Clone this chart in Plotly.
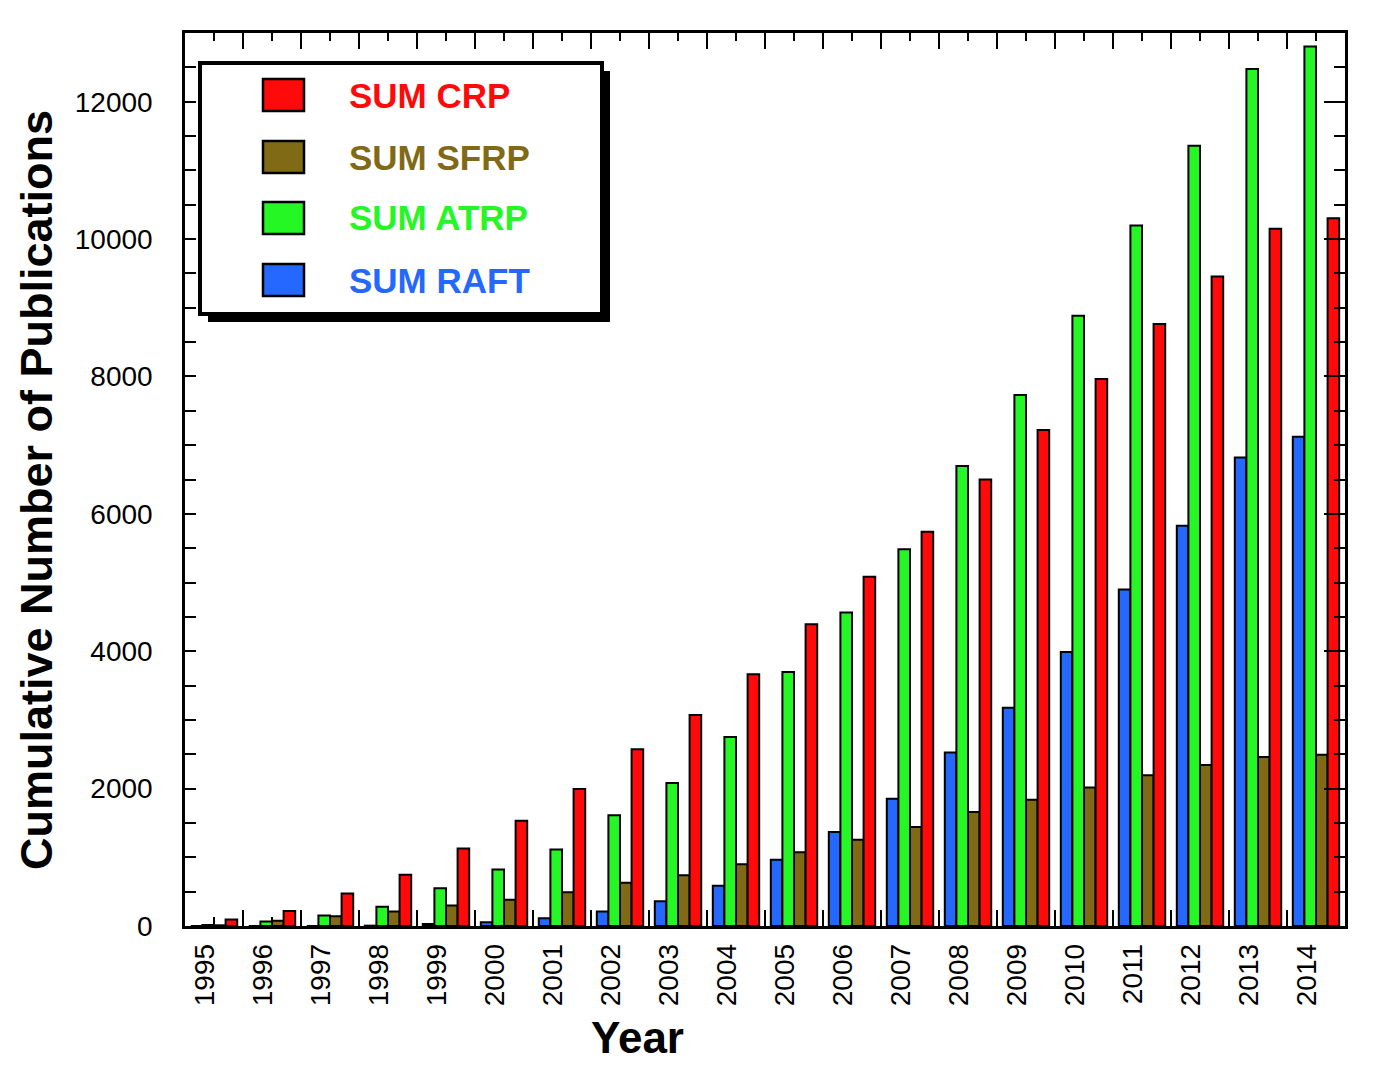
import plotly.graph_objects as go

# ---------------- data ----------------
years = list(range(1995, 2015))
year_labels = [str(y) for y in years]

raft = [0, 0, 0, 5, 30, 55, 114, 211, 361, 586, 965, 1367, 1853, 2524, 3179,
        3990, 4899, 5826, 6822, 7122]
atrp = [15, 65, 153, 280, 551, 823, 1115, 1614, 2081, 2751, 3698, 4563, 5486,
        6695, 7730, 8885, 10197, 11358, 12476, 12805]
sfrp = [10, 75, 143, 211, 299, 382, 492, 629, 740, 900, 1075, 1256, 1440, 1658,
        1839, 2018, 2193, 2343, 2460, 2494]
crp = [95, 220, 474, 746, 1130, 1533, 1993, 2572, 3072, 3665, 4393, 5083, 5738,
       6501, 7220, 7963, 8764, 9454, 10149, 10305]

series_names = ["SUM RAFT", "SUM ATRP", "SUM SFRP", "SUM CRP"]
series_values = [raft, atrp, sfrp, crp]
series_colors = ["#2468FF", "#24F724", "#816A16", "#FF0A0A"]
legend_order = ["SUM CRP", "SUM SFRP", "SUM ATRP", "SUM RAFT"]

y_tick_vals = [0, 2000, 4000, 6000, 8000, 10000, 12000]
y_tick_text = [str(v) for v in y_tick_vals]

# ---------------- figure geometry ----------------
OFF = 8  # page body margin
W, H = 1377 - OFF, 1078 - OFF
ML, MT = 185 - OFF, 33 - OFF
MR = W - (1345 - OFF)
MB = H - (926 - OFF)
PW, PH = W - ML - MR, H - MT - MB


def px(x):
    return (x - OFF - ML) / PW


def py(y):
    return (H - MB - (y - OFF)) / PH


FONT = "Arial, Liberation Sans, sans-serif"

fig = go.Figure()
for name, vals, col in zip(series_names, series_values, series_colors):
    fig.add_trace(go.Bar(
        x=years, y=vals, name=name,
        marker=dict(color=col, line=dict(color="black", width=2)),
        showlegend=False,
    ))

xr = [years[0] - 0.5, years[-1] + 0.5]
yr = [0, 13000]

fig.update_layout(
    width=W, height=H,
    margin=dict(l=ML, r=MR, t=MT, b=MB),
    paper_bgcolor="white", plot_bgcolor="white",
    barmode="group", bargap=0.2, bargroupgap=0.0,
    font=dict(family=FONT, color="black"),
    xaxis=dict(
        range=xr, tickmode="array",
        tickvals=[y - 0.15 for y in years], ticktext=year_labels,
        tickangle=-90, ticks="", showgrid=False, zeroline=False,
        showline=True, linecolor="black", linewidth=2.5,
        tickfont=dict(size=28, family=FONT, color="black"),
        ticklabelstandoff=4,
    ),
    xaxis2=dict(
        overlaying="x", anchor="y", side="bottom", range=xr,
        tick0=xr[0], dtick=1, ticks="inside", ticklen=16, tickwidth=2,
        tickcolor="black", showticklabels=False, showgrid=False,
        zeroline=False, showline=False,
        minor=dict(dtick=0.5, tick0=xr[0], ticks="inside", ticklen=9,
                   tickwidth=2, tickcolor="black"),
    ),
    xaxis3=dict(
        overlaying="x", anchor="y", side="top", range=xr,
        tick0=xr[0], dtick=1, ticks="inside", ticklen=16, tickwidth=2,
        tickcolor="black", showticklabels=False, showgrid=False,
        zeroline=False, showline=True, linecolor="black", linewidth=2.5,
        minor=dict(dtick=0.5, tick0=xr[0], ticks="inside", ticklen=8,
                   tickwidth=2, tickcolor="black"),
    ),
    yaxis=dict(
        range=yr, tickmode="array", tickvals=y_tick_vals, ticktext=y_tick_text,
        ticks="inside", ticklen=11, tickwidth=2, tickcolor="black",
        showgrid=False, zeroline=False,
        showline=True, linecolor="black", linewidth=2.5,
        tickfont=dict(size=28, family=FONT, color="black"),
        ticklabelstandoff=24,
        minor=dict(dtick=500, tick0=0, ticks="inside", ticklen=11,
                   tickwidth=2, tickcolor="black"),
    ),
    yaxis2=dict(
        overlaying="y", anchor="x", side="right", range=yr,
        tick0=0, dtick=2000, ticks="inside", ticklen=21, tickwidth=2,
        tickcolor="black", showticklabels=False, showgrid=False,
        zeroline=False, showline=True, linecolor="black", linewidth=2.5,
        minor=dict(dtick=500, tick0=0, ticks="inside", ticklen=11,
                   tickwidth=2, tickcolor="black"),
    ),
)

# invisible traces to activate the overlay axes
fig.add_trace(go.Scatter(x=[xr[0]], y=[0], xaxis="x2", yaxis="y", mode="markers",
                         marker=dict(opacity=0), showlegend=False, hoverinfo="skip"))
fig.add_trace(go.Scatter(x=[xr[0]], y=[0], xaxis="x3", yaxis="y", mode="markers",
                         marker=dict(opacity=0), showlegend=False, hoverinfo="skip"))
fig.add_trace(go.Scatter(x=[xr[0]], y=[0], xaxis="x", yaxis="y2", mode="markers",
                         marker=dict(opacity=0), showlegend=False, hoverinfo="skip"))

# axis titles
fig.add_annotation(text="<b>Cumulative Number of Publications</b>", textangle=-90,
                   xref="paper", yref="paper", x=px(36), y=py(490),
                   xanchor="center", yanchor="middle", showarrow=False,
                   font=dict(size=45, family=FONT, color="black"))
fig.add_annotation(text="<b>Year</b>",
                   xref="paper", yref="paper", x=px(637), y=py(1037),
                   xanchor="center", yanchor="middle", showarrow=False,
                   font=dict(size=44, family=FONT, color="black"))

# custom legend box with drop shadow
bx0, by0, bx1, by1 = 200, 63, 602, 314
fig.add_shape(type="rect", xref="paper", yref="paper",
              x0=px(bx0 + 8), x1=px(bx1 + 8), y0=py(by1 + 8), y1=py(by0 + 8),
              fillcolor="black", line=dict(color="black", width=0), layer="above")
fig.add_shape(type="rect", xref="paper", yref="paper",
              x0=px(bx0), x1=px(bx1), y0=py(by1), y1=py(by0),
              fillcolor="white", line=dict(color="black", width=4), layer="above")

name_to_color = dict(zip(series_names, series_colors))
row_centers = [95, 157, 218, 280]
for name, cy in zip(legend_order, row_centers):
    col = name_to_color[name]
    fig.add_shape(type="rect", xref="paper", yref="paper",
                  x0=px(263), x1=px(304), y0=py(cy + 16), y1=py(cy - 16),
                  fillcolor=col, line=dict(color="black", width=2.5), layer="above")
    fig.add_annotation(text="<b>" + name + "</b>", xref="paper", yref="paper",
                       x=px(347), y=py(cy), xanchor="left", yanchor="middle",
                       showarrow=False,
                       font=dict(size=35, family=FONT, color=col))

fig.write_html("out.html")
